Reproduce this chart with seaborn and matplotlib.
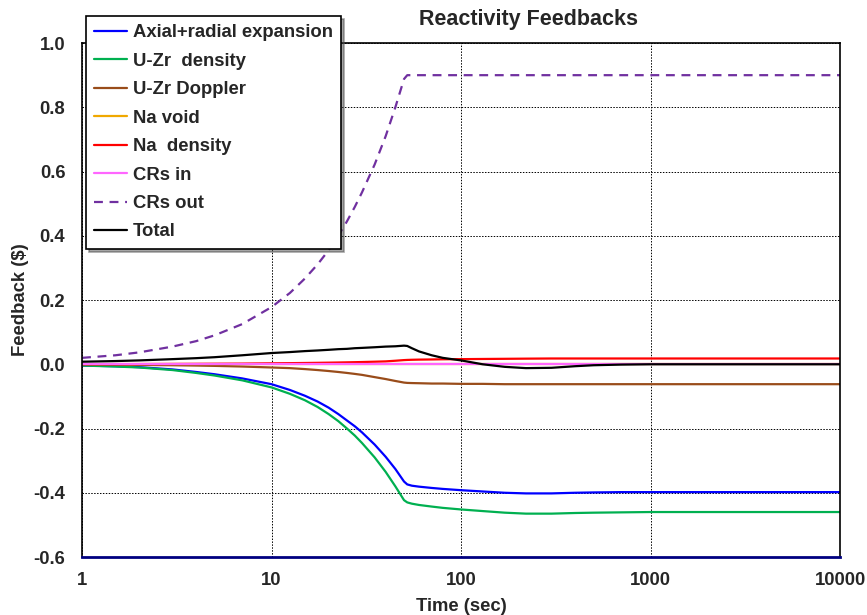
import numpy as np
import pandas as pd
import matplotlib
matplotlib.use('Agg')
import matplotlib.pyplot as plt
from matplotlib.ticker import LogLocator, FixedLocator, NullFormatter
import seaborn as sns

# Time grid (sec)
time_s = [1, 1.5, 2, 3, 4, 5, 7, 10, 12.5, 15, 17.5, 20, 22.5, 25, 27.5, 30,
          35, 40, 45, 50, 52, 55, 60, 70, 80, 100, 130, 170, 220, 300, 400,
          500, 700, 1000, 3000, 10000]

axial_radial = [-0.004, -0.006, -0.009, -0.016, -0.024, -0.031, -0.044, -0.062,
                -0.08, -0.098, -0.116, -0.135, -0.155, -0.175, -0.193, -0.212,
                -0.25, -0.288, -0.326, -0.365, -0.374, -0.378, -0.381, -0.385,
                -0.388, -0.392, -0.396, -0.4, -0.402, -0.402, -0.4, -0.399,
                -0.398, -0.398, -0.398, -0.398]
uzr_density = [-0.004, -0.007, -0.01, -0.018, -0.027, -0.035, -0.05, -0.072,
               -0.092, -0.112, -0.133, -0.155, -0.177, -0.2, -0.222, -0.245,
               -0.29, -0.335, -0.38, -0.423, -0.43, -0.434, -0.438, -0.443,
               -0.447, -0.452, -0.457, -0.462, -0.465, -0.465, -0.463, -0.462,
               -0.461, -0.46, -0.46, -0.46]
uzr_doppler = [0.0, -0.001, -0.002, -0.003, -0.004, -0.005, -0.007, -0.01,
               -0.012, -0.015, -0.018, -0.021, -0.024, -0.027, -0.03, -0.033,
               -0.04, -0.046, -0.052, -0.057, -0.058, -0.0585, -0.059, -0.06,
               -0.06, -0.061, -0.061, -0.062, -0.062, -0.062, -0.062, -0.062,
               -0.062, -0.062, -0.062, -0.062]
na_void = [0.0] * len(time_s)
na_density = [0.0, 0.0003, 0.0006, 0.001, 0.0013, 0.0016, 0.002, 0.003,
              0.0035, 0.004, 0.0045, 0.005, 0.0055, 0.006, 0.0065, 0.007,
              0.008, 0.009, 0.011, 0.013, 0.0135, 0.014, 0.0145, 0.015,
              0.0155, 0.016, 0.0165, 0.017, 0.0175, 0.018, 0.018, 0.018,
              0.018, 0.018, 0.018, 0.018]
crs_in = [0.0] * len(time_s)
crs_out = [0.02, 0.028, 0.037, 0.055, 0.072, 0.09, 0.125, 0.178, 0.222,
           0.267, 0.311, 0.355, 0.4, 0.445, 0.49, 0.535, 0.622, 0.71, 0.8,
           0.888, 0.9, 0.9, 0.9, 0.9, 0.9, 0.9, 0.9, 0.9, 0.9, 0.9, 0.9, 0.9,
           0.9, 0.9, 0.9, 0.9]
total = [0.008, 0.01, 0.012, 0.016, 0.019, 0.022, 0.028, 0.035, 0.038, 0.041,
         0.043, 0.045, 0.047, 0.048, 0.05, 0.051, 0.053, 0.055, 0.056, 0.058,
         0.057, 0.05, 0.04, 0.028, 0.02, 0.012, 0.0, -0.008, -0.012, -0.011,
         -0.006, -0.003, -0.001, 0.0, 0.0, 0.0]

series = [
    ('Axial+radial expansion', axial_radial, '#0000FF', '-'),
    ('U-Zr  density', uzr_density, '#00B050', '-'),
    ('U-Zr Doppler', uzr_doppler, '#994C1A', '-'),
    ('Na void', na_void, '#F0A800', '-'),
    ('Na  density', na_density, '#FF0000', '-'),
    ('CRs in', crs_in, '#FF66FF', '-'),
    ('CRs out', crs_out, '#7030A0', (0, (4, 3))),
    ('Total', total, '#000000', '-'),
]

sns.set_theme(style='white')
plt.rcParams['font.family'] = ['Liberation Sans', 'DejaVu Sans']
plt.rcParams['font.weight'] = 'bold'

fig = plt.figure(figsize=(8.67, 6.15), dpi=100)
ax = fig.add_axes([0.0946, 0.0943, 0.8744, 0.8357])

for name, vals, color, ls in series:
    df = pd.DataFrame({'Time': time_s, 'Feedback': vals})
    sns.lineplot(data=df, x='Time', y='Feedback', ax=ax, color=color,
                 linestyle=ls, linewidth=1.6, label=name)

ax.set_xscale('log')
ax.set_xlim(1, 10000)
ax.set_ylim(-0.6, 1.0)
ax.xaxis.set_major_locator(FixedLocator([1, 10, 100, 1000, 10000]))
ax.set_xticklabels(['1', '10', '100', '1000', '10000'])
ax.xaxis.set_minor_locator(LogLocator(base=10, subs=np.arange(2, 10)))
ax.xaxis.set_minor_formatter(NullFormatter())
ax.set_yticks(np.arange(-0.6, 1.01, 0.2))
ax.set_yticklabels([f'{v:.1f}' for v in np.arange(-0.6, 1.01, 0.2)])

ax.grid(True, which='major', color='black', linestyle=(0, (1.5, 1.5)), linewidth=0.7)
ax.tick_params(axis='x', which='major', direction='in', length=5, width=1,
               color='#000080', labelsize=13.3, pad=11)
ax.tick_params(axis='x', which='minor', direction='in', length=3, width=1,
               color='#000080')
ax.tick_params(axis='y', which='major', length=0, labelsize=13.3, pad=12)
for lab in ax.get_xticklabels() + ax.get_yticklabels():
    lab.set_fontweight('bold')

for side in ['left', 'top', 'right']:
    ax.spines[side].set_color('black')
    ax.spines[side].set_linewidth(1.2)
ax.spines['bottom'].set_color('#000080')
ax.spines['bottom'].set_linewidth(2)

ax.set_xlabel('Time (sec)', fontsize=13.3, fontweight='bold', labelpad=6)
ax.set_ylabel('Feedback ($)', fontsize=13.3, fontweight='bold', labelpad=3)
fig.text(0.609, 0.968, 'Reactivity Feedbacks', ha='center', va='center',
         fontsize=15.5, fontweight='bold')

handles, labels = ax.get_legend_handles_labels()
if ax.legend_:
    ax.legend_.remove()
leg = fig.legend(handles, labels, loc='upper left',
                 bbox_to_anchor=(0.099, 0.974), borderaxespad=0,
                 frameon=True, fancybox=False, shadow=True, framealpha=1,
                 edgecolor='black', fontsize=13.3, handlelength=1.78,
                 handletextpad=0.3, labelspacing=0.62, borderpad=0.45)
leg.get_frame().set_linewidth(1.2)
for t in leg.get_texts():
    t.set_fontweight('bold')

fig.savefig('out.png', dpi=100)
